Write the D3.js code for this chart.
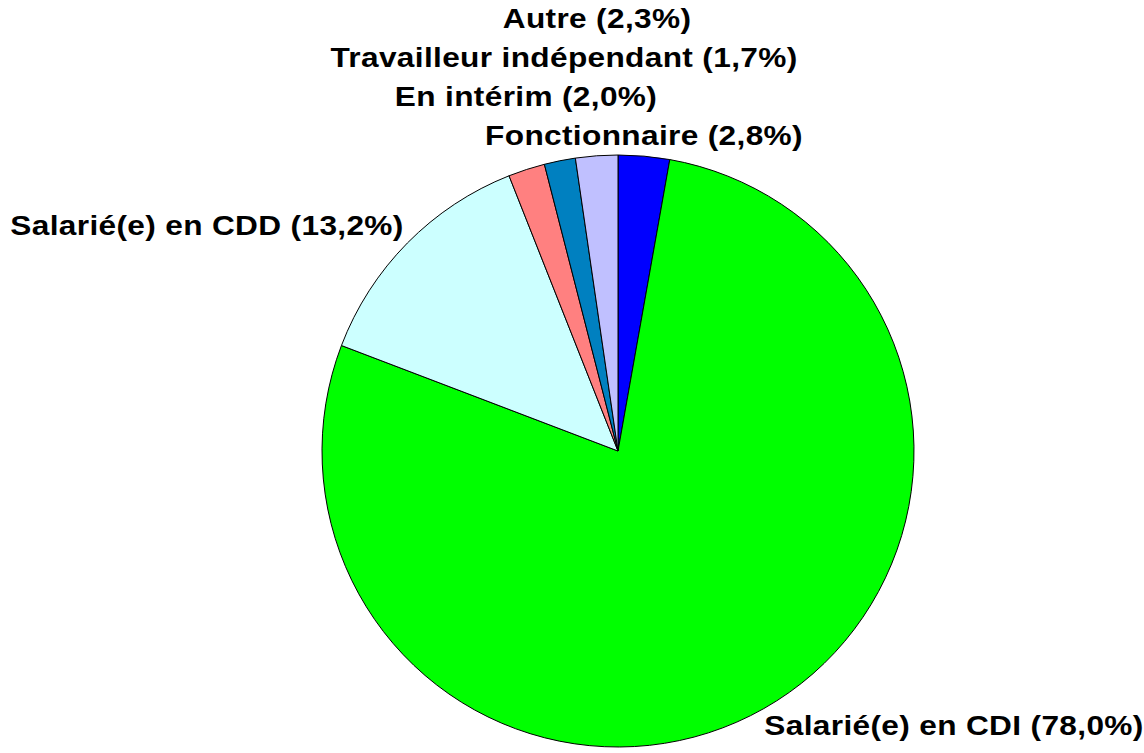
<!DOCTYPE html>
<html>
<head>
<meta charset="utf-8">
<script src="https://cdn.jsdelivr.net/npm/d3@7"></script>
<style>
  body { margin: 0; background: #fff; }
  text { font-family: "Liberation Sans", Arial, sans-serif; font-weight: bold; }
</style>
</head>
<body>
<div id="chart"></div>
<script>
const width = 1144, height = 753;

// data, clockwise from 12 o'clock
const categories = ["Fonctionnaire", "Salarié(e) en CDI", "Salarié(e) en CDD", "En intérim", "Travailleur indépendant", "Autre"];
const values = [2.8, 78.0, 13.2, 2.0, 1.7, 2.3];
const colors = ["#0000FF", "#00FF00", "#CCFFFF", "#FF8080", "#0080C0", "#C0C0FF"];

// where the labels sit (centre x, baseline y)
const labelPos = [[644, 145], [954, 735], [207, 235], [526, 106], [564, 67], [597, 28]];

const cx = 618, cy = 451, radius = 296;

const svg = d3.select("#chart")
    .append("svg")
    .attr("width", width)
    .attr("height", height);

const g = svg.append("g")
    .attr("transform", `translate(${cx},${cy})`);

const pie = d3.pie().sort(null).value(d => d);
const arc = d3.arc().innerRadius(0).outerRadius(radius);

const arcs = pie(values);

g.selectAll("path")
    .data(arcs)
    .enter().append("path")
    .attr("d", arc)
    .attr("fill", (d, i) => colors[i])
    .attr("stroke", "#000")
    .attr("stroke-width", 1);

const fmt = v => v.toFixed(1).replace(".", ",");

// labels look a bit stretched sideways in the original
svg.append("g")
    .selectAll("text")
    .data(categories)
    .enter().append("text")
    .attr("transform", (d, i) => `translate(${labelPos[i][0]},${labelPos[i][1]}) scale(1.13,1)`)
    .attr("text-anchor", "middle")
    .attr("font-size", 28)
    .attr("letter-spacing", 0.3)
    .attr("fill", "#000")
    .text((d, i) => `${d} (${fmt(values[i])}%)`);
</script>
</body>
</html>
